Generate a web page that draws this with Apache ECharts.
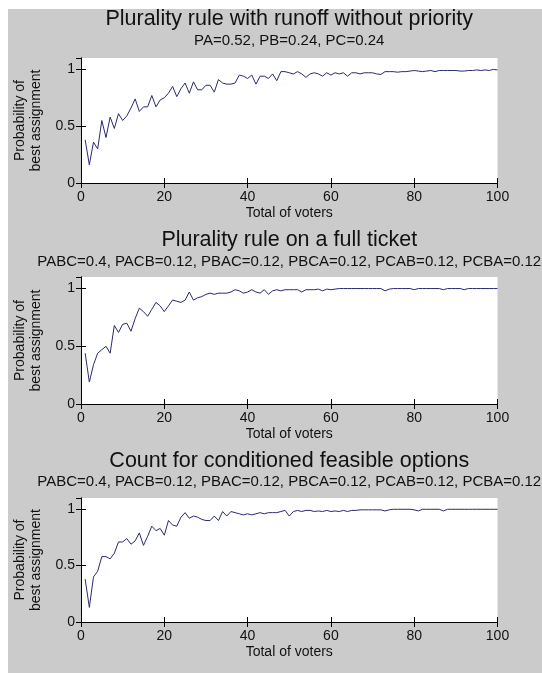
<!DOCTYPE html>
<html>
<head>
<meta charset="utf-8">
<script src="https://cdn.jsdelivr.net/npm/echarts@6/dist/echarts.min.js"></script>
<style>
html,body{margin:0;padding:0;background:#fff;}
#bg{position:absolute;left:8px;top:9px;width:534px;height:664px;background:#cbcbcb;}
#main{position:absolute;left:0;top:0;width:542px;height:673px;}
</style>
</head>
<body>
<div id="bg"></div>
<div id="main"></div>
<script>
// ---- data ----
const titles = [
  'Plurality rule with runoff without priority',
  'Plurality rule on a full ticket',
  'Count for conditioned feasible options'
];
const subtitles = [
  'PA=0.52, PB=0.24, PC=0.24',
  'PABC=0.4, PACB=0.12, PBAC=0.12, PBCA=0.12, PCAB=0.12, PCBA=0.12',
  'PABC=0.4, PACB=0.12, PBAC=0.12, PBCA=0.12, PCAB=0.12, PCBA=0.12'
];
const xTitle = 'Total of voters';
const yTitle = 'Probability of\nbest assignment';
const xTicks = [0, 20, 40, 60, 80, 100];
const yTicks = [0, 0.5, 1];

const runoff = [
  0.38,0.16,0.36,0.30,0.55,0.40,0.58,0.48,0.61,0.55,
  0.59,0.66,0.74,0.63,0.67,0.67,0.77,0.67,0.73,0.75,
  0.79,0.85,0.76,0.83,0.88,0.79,0.89,0.82,0.82,0.86,
  0.86,0.80,0.91,0.88,0.87,0.87,0.88,0.95,0.94,0.92,
  0.95,0.87,0.94,0.94,0.92,0.96,0.90,0.98,0.98,0.97,
  0.96,0.98,0.96,0.93,0.96,0.97,0.96,0.94,0.97,0.95,
  0.97,0.96,0.97,0.94,0.97,0.97,0.96,0.97,0.97,0.97,
  0.96,0.955,0.98,0.98,0.98,0.975,0.98,0.98,0.985,0.99,
  0.985,0.98,0.985,0.99,0.98,0.99,0.99,0.99,0.99,0.99,
  0.985,0.985,0.99,0.99,0.995,0.99,0.995,0.99,1.0,0.995
];
const fullTicket = [
  0.44,0.19,0.34,0.44,0.47,0.50,0.44,0.68,0.62,0.69,
  0.70,0.63,0.74,0.83,0.80,0.76,0.82,0.88,0.85,0.80,
  0.85,0.90,0.89,0.88,0.90,0.97,0.90,0.92,0.93,0.95,
  0.96,0.95,0.96,0.96,0.96,0.97,0.99,0.98,0.96,0.97,
  0.99,0.97,0.96,0.99,0.95,0.98,0.99,0.98,0.99,0.99,
  0.99,0.99,0.97,0.99,0.99,0.99,0.995,0.98,0.995,0.99,
  0.995,1,1,1,1,1,1,1,1,1,
  1,1,0.98,0.995,1,1,1,1,1,0.99,
  1,1,1,1,1,1,0.99,1,1,1,
  1,0.99,1,1,1,1,1,1,1,1
];
const conditioned = [
  0.38,0.13,0.40,0.45,0.58,0.58,0.56,0.61,0.71,0.71,
  0.74,0.69,0.72,0.79,0.68,0.76,0.85,0.81,0.83,0.77,
  0.90,0.86,0.85,0.93,0.97,0.92,0.94,0.93,0.91,0.90,
  0.90,0.94,0.90,0.98,0.94,0.98,0.97,0.96,0.95,0.96,
  0.95,0.96,0.97,0.96,0.97,0.97,0.97,0.98,0.99,0.94,
  0.98,0.99,0.98,0.99,0.99,0.98,0.985,0.98,0.99,0.98,
  0.985,0.98,0.99,0.98,0.99,0.99,0.995,0.995,0.995,0.995,
  0.995,0.995,0.985,0.995,1,1,1,1,1,0.995,
  0.985,1,1,1,1,1,0.985,1,1,1,
  1,1,1,1,1,1,1,1,1,1
];
const seriesValues = [runoff, fullTicket, conditioned];

// ---- layout ----
const FONT = '"Liberation Sans", Arial, sans-serif';
const TXT = '#111';
const LINE = '#2a2a72';
const plotLeft = 81, plotW = 416.5;
const plotTops = [58, 277, 498];
const plotHeights = [125, 127, 124];
const titleY = [19, 240, 461];
const subY = [41, 262, 482];

const grids = [], xAxes = [], yAxes = [], series = [], graphics = [];
for (let i = 0; i < 3; i++) {
  grids.push({left: plotLeft, top: plotTops[i], width: plotW, height: plotHeights[i],
    show: true, backgroundColor: '#ffffff', borderWidth: 0});
  const axLine = {show: true, lineStyle: {color: '#000', width: 1}};
  const tick = {show: true, inside: true, length: 5, lineStyle: {color: '#000', width: 1}};
  xAxes.push({gridIndex: i, type: 'value', position: 'bottom', min: xTicks[0], max: xTicks[xTicks.length-1],
    interval: xTicks[1]-xTicks[0], axisLine: axLine, axisTick: tick, splitLine: {show: false},
    axisLabel: {color: TXT, fontSize: 14, fontFamily: FONT, margin: 7},
    name: xTitle, nameLocation: 'middle', nameGap: 23,
    nameTextStyle: {color: TXT, fontSize: 14, fontFamily: FONT}});
  xAxes.push({gridIndex: i, type: 'value', position: 'top', min: xTicks[0], max: xTicks[xTicks.length-1],
    interval: xTicks[1]-xTicks[0], axisLine: axLine, axisTick: tick, splitLine: {show: false},
    axisLabel: {show: false}});
  yAxes.push({gridIndex: i, type: 'value', position: 'left', min: 0, max: 1.1,
    interval: yTicks[1]-yTicks[0], axisLine: axLine, axisTick: tick, splitLine: {show: false},
    axisLabel: {color: TXT, fontSize: 14, fontFamily: FONT, margin: 6, showMaxLabel: false,
      formatter: v => (yTicks.indexOf(v) >= 0 ? String(v) : '')},
    name: yTitle, nameLocation: 'middle', nameGap: 34, nameRotate: 90,
    nameTextStyle: {color: TXT, fontSize: 14, fontFamily: FONT, lineHeight: 16, align: 'center'}});
  yAxes.push({gridIndex: i, type: 'value', position: 'right', min: 0, max: 1.1,
    interval: yTicks[1]-yTicks[0], axisLine: axLine, axisTick: tick, splitLine: {show: false},
    axisLabel: {show: false}});
  series.push({type: 'line', xAxisIndex: 2*i, yAxisIndex: 2*i, showSymbol: false, silent: true,
    lineStyle: {color: LINE, width: 1}, animation: false,
    data: seriesValues[i].map((v, k) => [k + 1, v])});
  graphics.push({type: 'text', x: plotLeft + plotW/2, y: titleY[i],
    style: {text: titles[i], fill: TXT, font: '21.5px ' + FONT, textAlign: 'center', textVerticalAlign: 'middle'}});
  graphics.push({type: 'text', x: plotLeft + plotW/2, y: subY[i],
    style: {text: subtitles[i], fill: TXT, font: '15px ' + FONT, textAlign: 'center', textVerticalAlign: 'middle'}});
}

const chart = echarts.init(document.getElementById('main'), null, {renderer: 'canvas'});
chart.setOption({
  backgroundColor: 'transparent',
  animation: false,
  grid: grids, xAxis: xAxes, yAxis: yAxes, series: series, graphic: graphics
});
</script>
</body>
</html>
